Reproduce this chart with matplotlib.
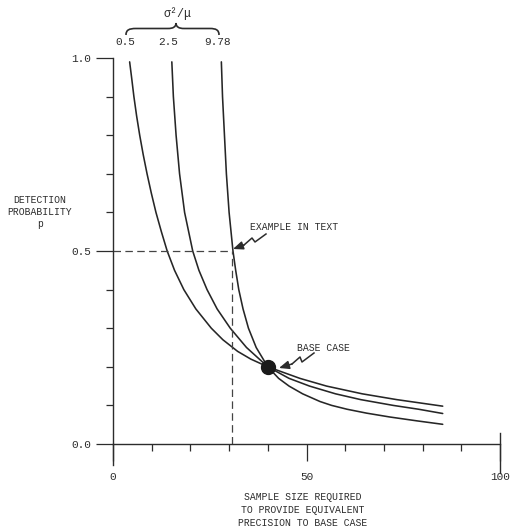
import matplotlib
matplotlib.use("Agg")
import matplotlib.pyplot as plt
from matplotlib.path import Path
from matplotlib.patches import PathPatch
from matplotlib.ticker import MultipleLocator

# curves: detection probability p vs sample size n
p_05 = [0.99, 0.95, 0.9, 0.85, 0.8, 0.75, 0.7, 0.65, 0.6, 0.55, 0.5, 0.45, 0.4,
        0.35, 0.3, 0.27, 0.24, 0.22, 0.2, 0.17, 0.15, 0.13, 0.115, 0.098]
n_05 = [4.3, 4.8, 5.4, 6.1, 6.9, 7.8, 8.8, 9.9, 11.1, 12.5, 14.0, 15.9, 18.3,
        21.4, 25.4, 28.4, 32.2, 35.6, 40.0, 48.3, 55.2, 64.4, 73.3, 85.2]

p_25 = [0.99, 0.9, 0.8, 0.7, 0.6, 0.5, 0.45, 0.4, 0.35, 0.3, 0.25, 0.2, 0.17,
        0.15, 0.13, 0.115, 0.1, 0.09, 0.079]
n_25 = [15.2, 15.6, 16.3, 17.2, 18.5, 20.6, 22.2, 24.3, 26.9, 30.3, 34.5, 40.0,
        45.5, 50.8, 57.5, 64.0, 72.4, 79.0, 85.2]

p_978 = [0.99, 0.9, 0.8, 0.7, 0.6, 0.5, 0.45, 0.4, 0.35, 0.3, 0.25, 0.2, 0.17,
         0.15, 0.13, 0.11, 0.1, 0.09, 0.08, 0.07, 0.06, 0.051]
n_978 = [28.0, 28.3, 28.8, 29.3, 30.0, 31.0, 31.7, 32.5, 33.6, 35.0, 37.0, 40.0,
         42.8, 45.5, 49.0, 53.5, 56.5, 60.5, 65.5, 71.5, 78.5, 85.2]

ratio_labels = ["0.5", "2.5", "9.78"]
base_case = (40, 0.2)
example = (30.8, 0.5)

W, H = 516, 529
INK = "#2c2c2c"
FONT = "Liberation Mono"


def fig_xy(px, py):
    return px / W, 1 - py / H


fig = plt.figure(figsize=(W / 100, H / 100), dpi=100)
ax = fig.add_axes([113 / W, 1 - 444 / H, 387 / W, 386 / H])
ax.set_xlim(0, 100)
ax.set_ylim(0, 1)
for s in ["top", "right"]:
    ax.spines[s].set_visible(False)
for s in ["left", "bottom"]:
    ax.spines[s].set_linewidth(1.0)
    ax.spines[s].set_color(INK)

# ticks
ax.set_xticks([0, 50, 100])
ax.set_xticklabels(["0", "50", "100"])
ax.xaxis.set_minor_locator(MultipleLocator(10))
ax.set_yticks([0, 0.5, 1.0])
ax.set_yticklabels(["0.0", "0.5", "1.0"])
ax.yaxis.set_minor_locator(MultipleLocator(0.1))
ax.tick_params(which="major", length=12, width=0.9, color=INK, labelcolor=INK,
               labelsize=8)
ax.tick_params(which="minor", length=5, width=0.9, color=INK)
ax.tick_params(axis="x", which="major", pad=8)
ax.tick_params(axis="y", which="major", pad=4)
for lab in ax.get_xticklabels() + ax.get_yticklabels():
    lab.set_fontfamily(FONT)

# longer end marks on the x axis
ax.plot([0, 0], [0, -0.054], transform=ax.get_xaxis_transform(), color=INK,
        lw=1.0, clip_on=False)
ax.plot([100, 100], [0.028, -0.075], transform=ax.get_xaxis_transform(),
        color=INK, lw=1.0, clip_on=False)

# curves
for n, p in [(n_05, p_05), (n_25, p_25), (n_978, p_978)]:
    ax.plot(n, p, color="#262626", lw=1.15, solid_joinstyle="round",
            solid_capstyle="round")

# dashed guide for the example
ax.plot([0, example[0]], [example[1], example[1]], color="#444444", lw=0.9,
        dashes=(6, 3.5))
ax.plot([example[0], example[0]], [0, example[1]], color="#444444", lw=0.9,
        dashes=(6, 3.5))

# base case dot
ax.plot(*base_case, "o", color="#1a1a1a", markersize=10)

# labels above the curves
tops = [n_05[0], n_25[0], n_978[0]]
for x, lab in zip(tops, ratio_labels):
    ax.text(x - 1, (444 - 42) / 386, lab, ha="center", va="center",
            fontsize=8, color=INK, family=FONT, clip_on=False)

# brace and sigma^2/mu
brace = [(126, 35), (126, 30), (129, 28.5), (136, 28.5), (168, 28.5),
         (173, 28.5), (176, 27), (176, 23), (176, 27), (179, 28.5), (184, 28.5),
         (210, 28.5), (216, 28.5), (219, 30), (219, 35)]
codes = [Path.MOVETO, Path.CURVE4, Path.CURVE4, Path.CURVE4, Path.LINETO,
         Path.CURVE4, Path.CURVE4, Path.CURVE4, Path.CURVE4, Path.CURVE4,
         Path.CURVE4, Path.LINETO, Path.CURVE4, Path.CURVE4, Path.CURVE4]
verts = [fig_xy(*v) for v in brace]
fig.add_artist(PathPatch(Path(verts, codes), fc="none", ec=INK, lw=1.2,
                         transform=fig.transFigure))
fig.text(*fig_xy(177, 14), "σ²/μ", ha="center", va="center", fontsize=8.5,
         color=INK, family=FONT)


# squiggly pointers
def squiggle(pts):
    xy = [fig_xy(*p) for p in pts]
    xs, ys = zip(*xy[:-1])
    fig.add_artist(plt.Line2D(xs, ys, color=INK, lw=1.1,
                              transform=fig.transFigure))
    ax.annotate("", xy=xy[-1], xycoords="figure fraction", xytext=xy[-2],
                textcoords="figure fraction",
                arrowprops=dict(arrowstyle="-|>,head_length=0.6,head_width=0.25",
                                color=INK, lw=1.1, shrinkA=0, shrinkB=0))


fig.text(*fig_xy(250, 227), "EXAMPLE IN TEXT", ha="left", va="center",
         fontsize=7, color=INK, family=FONT)
squiggle([(266, 234), (255, 242), (252, 238), (244, 245), (233, 249)])

fig.text(*fig_xy(297, 348), "BASE CASE", ha="left", va="center",
         fontsize=7, color=INK, family=FONT)
squiggle([(314, 353), (302, 362), (300, 357), (292, 364), (279, 368)])

# axis titles
fig.text(*fig_xy(40, 212), "DETECTION\nPROBABILITY\np", ha="center",
         va="center", fontsize=7, color=INK, family=FONT, linespacing=1.3)
fig.text(*fig_xy(303, 510), "SAMPLE SIZE REQUIRED\nTO PROVIDE EQUIVALENT\n"
         "PRECISION TO BASE CASE", ha="center", va="center", fontsize=7,
         color=INK, family=FONT, linespacing=1.35)

fig.savefig("out.png", dpi=100)
